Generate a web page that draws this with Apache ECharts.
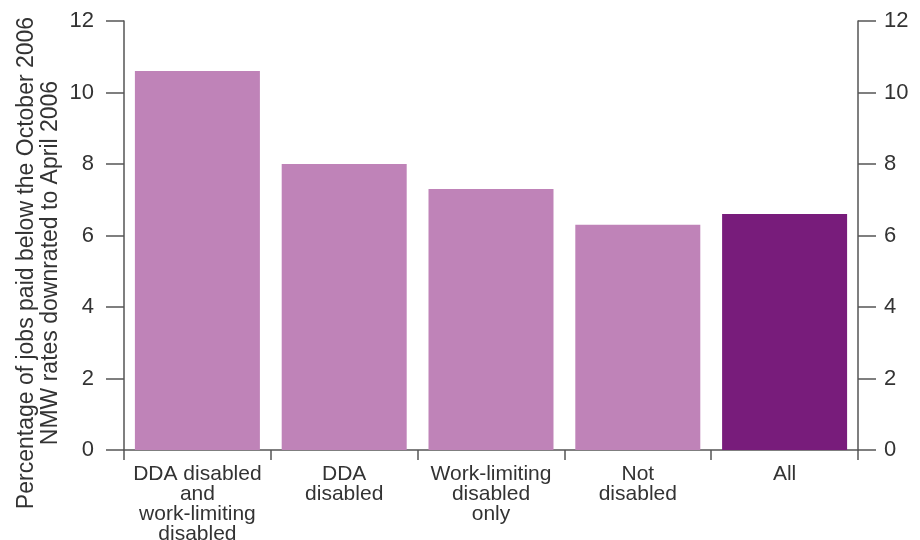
<!DOCTYPE html>
<html><head><meta charset="utf-8">
<script src="https://cdn.jsdelivr.net/npm/echarts@6/dist/echarts.min.js"></script>
<style>html,body{margin:0;padding:0;background:#fff}#c{width:920px;height:540px}</style>
</head><body><div id="c"></div>
<script>
const categories = ["DDA disabled\nand\nwork-limiting\ndisabled", "DDA\ndisabled", "Work-limiting\ndisabled\nonly", "Not\ndisabled", "All"];
const values = [10.6, 8.0, 7.3, 6.3, 6.6];
const barColors = ["#bf83b8", "#bf83b8", "#bf83b8", "#bf83b8", "#781c7b"];
const yTitle = "Percentage of jobs paid below the October 2006\nNMW rates downrated to April 2006";

const font = "Liberation Sans, Arial, sans-serif";
const axisColor = "#555";
const textColor = "#333";
const chart = echarts.init(document.getElementById('c'));
const yCommon = {
  type: 'value', min: 0, max: 12, interval: 2,
  axisLine: {show: true, lineStyle: {color: axisColor, width: 1.5}},
  axisTick: {show: true, length: 18, lineStyle: {color: axisColor, width: 1.5}},
  splitLine: {show: false},
  axisLabel: {color: textColor, fontSize: 22, fontFamily: font}
};
chart.setOption({
  animation: false,
  grid: {left: 124, right: 62, top: 21, bottom: 90, containLabel: false, outerBoundsMode: 'none'},
  xAxis: {
    type: 'category', data: categories,
    axisLine: {lineStyle: {color: axisColor, width: 1.5}},
    axisTick: {show: true, length: 10, lineStyle: {color: axisColor, width: 1.5}},
    axisLabel: {color: textColor, fontSize: 21, lineHeight: 20, fontFamily: font, margin: 14, interval: 0}
  },
  yAxis: [
    Object.assign({}, yCommon, {position: 'left', axisLabel: Object.assign({}, yCommon.axisLabel, {margin: 30})}),
    Object.assign({}, yCommon, {position: 'right', axisLabel: Object.assign({}, yCommon.axisLabel, {margin: 26})})
  ],
  graphic: [{
    type: 'text', rotation: Math.PI / 2,
    style: {text: yTitle, fill: textColor, font: '23px ' + font, textAlign: 'center', textVerticalAlign: 'middle', lineHeight: 24},
    x: 39, y: 263
  }],
  series: [{
    type: 'bar', barWidth: 125,
    data: values.map((v, i) => ({value: v, itemStyle: {color: barColors[i]}}))
  }]
});
</script></body></html>
